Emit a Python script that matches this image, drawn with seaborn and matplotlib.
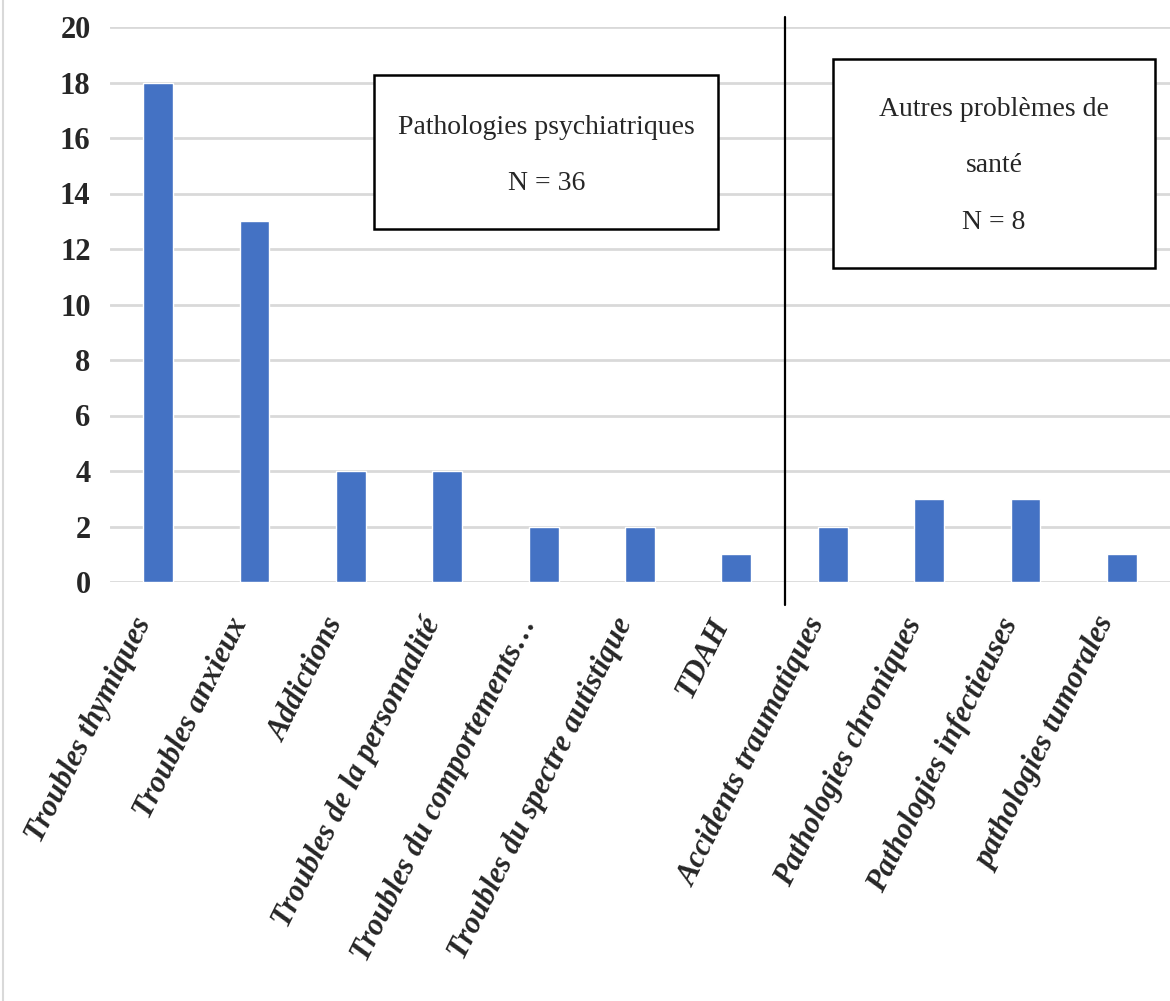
"""
Bar chart: health problems, psychiatric vs other.
"""

import matplotlib
matplotlib.use("Agg")
import matplotlib.pyplot as plt
from matplotlib.lines import Line2D
from matplotlib.patches import Rectangle
import matplotlib.transforms as mtransforms
import seaborn as sns

# ============================================================
# DATA
# ============================================================

categories = [
    "Troubles thymiques",
    "Troubles anxieux",
    "Addictions",
    "Troubles de la personnalité",
    "Troubles du comportements…",
    "Troubles du spectre autistique",
    "TDAH",
    "Accidents traumatiques",
    "Pathologies chroniques",
    "Pathologies infectieuses",
    "pathologies tumorales",
]
counts = [18, 13, 4, 4, 2, 2, 1, 2, 3, 3, 1]
y_ticks = list(range(0, 21, 2))

box_left_text = "Pathologies psychiatriques\nN = 36"
box_right_text = "Autres problèmes de\nsanté\nN = 8"

BAR_COLOR = "#4472C4"
GRID_COLOR = "#D9D9D9"

# ============================================================
# STYLE
# ============================================================

sns.set_theme(style="white")
plt.rcParams["font.family"] = ["Liberation Serif", "DejaVu Serif"]

fig = plt.figure(figsize=(11.70, 10.01), dpi=100)
ax = fig.add_axes([110 / 1170, 1 - 582 / 1001, 1060 / 1170, 555 / 1001])

sns.barplot(x=categories, y=counts, color=BAR_COLOR, saturation=1,
            width=0.31, ax=ax, zorder=3)

# axes look
ax.set_ylim(0, 20)
ax.set_yticks(y_ticks)
ax.yaxis.grid(True, color=GRID_COLOR, linewidth=2, zorder=0)
ax.set_axisbelow(True)
for s in ax.spines.values():
    s.set_visible(False)
ax.tick_params(axis="both", length=0)
ax.tick_params(axis="y", pad=14)
ax.tick_params(axis="x", pad=27)
ax.set_xlabel("")
ax.set_ylabel("")

for lbl in ax.get_yticklabels():
    lbl.set_fontsize(22)
    lbl.set_fontweight("bold")

ax.set_xticks(range(len(categories)))
ax.set_xticklabels(categories, rotation=63.5, ha="right", va="center",
                   rotation_mode="anchor", fontsize=22,
                   fontweight="bold", fontstyle="italic")
shift = mtransforms.ScaledTranslation(-14 / 100, 0, fig.dpi_scale_trans)
for lbl in ax.get_xticklabels():
    lbl.set_transform(lbl.get_transform() + shift)

# separator between the two groups
ax.axvline(6.5, ymin=-0.041, ymax=1.018, color="black", linewidth=1.6,
           clip_on=False, zorder=4)

# annotation boxes
ax.add_patch(Rectangle((0.249, 0.636), 0.325, 0.2775, transform=ax.transAxes,
                       facecolor="white", edgecolor="black", linewidth=1.8,
                       zorder=5))
ax.text(0.4115, 0.768, box_left_text, transform=ax.transAxes, ha="center",
        va="center", fontsize=20, linespacing=2.65, zorder=6)

ax.add_patch(Rectangle((0.682, 0.566), 0.304, 0.376, transform=ax.transAxes,
                       facecolor="white", edgecolor="black", linewidth=1.8,
                       zorder=5))
ax.text(0.834, 0.750, box_right_text, transform=ax.transAxes, ha="center",
        va="center", fontsize=20, linespacing=2.65, zorder=6)

# light chart border on the left
fig.add_artist(Line2D([3 / 1170, 3 / 1170], [0, 1], color=GRID_COLOR,
                      linewidth=1.5, transform=fig.transFigure))

fig.savefig("out.png", dpi=100)
plt.close(fig)
